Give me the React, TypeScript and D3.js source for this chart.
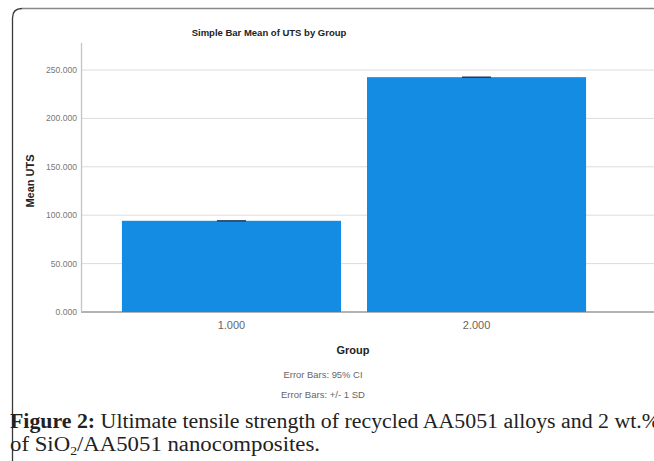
import React from "react";
import * as d3 from "d3";

const groups = ["1.000", "2.000"];
const means = [94.2, 242.6];
const errors = [0.7, 0.7];
const yTicks = [0, 50, 100, 150, 200, 250];

const W = 654;
const H = 461;

export default function App() {
  const x = d3
    .scaleBand<string>()
    .domain(groups)
    .range([81, 627])
    .paddingInner(0.106)
    .paddingOuter(0.167);
  const y = d3.scaleLinear().domain([0, 250]).range([312, 70]);
  const fmt = d3.format(".3f");
  const sans = "Arial, 'Liberation Sans', sans-serif";
  const serif = "'Liberation Serif', 'Times New Roman', serif";

  return (
    <svg
      width={W}
      height={H}
      style={{ position: "absolute", left: 0, top: 0, background: "#fff" }}
    >
      {/* frame */}
      <path d={`M12.5,${H} L12.5,18 Q12.5,8.5 22,8.5`} fill="none" stroke="#3a3a3a" strokeWidth={1.3} />
      <path d={`M22,8.5 L${W},8.5`} fill="none" stroke="#888" strokeWidth={1.5} />
      {/* title */}
      <text
        x={269}
        y={36}
        textAnchor="middle"
        fontFamily={sans}
        fontWeight="bold"
        fontSize={9.5}
        fill="#222"
      >
        Simple Bar Mean of UTS by Group
      </text>
      {/* gridlines */}
      {yTicks.map((t) => (
        <line
          key={"g" + t}
          x1={81}
          x2={W}
          y1={y(t)}
          y2={y(t)}
          stroke={t === 0 ? "#9a9a9a" : "#dcdcdc"}
          strokeWidth={t === 0 ? 1.3 : 1}
        />
      ))}
      {/* y axis */}
      <line x1={81.5} x2={81.5} y1={43} y2={312} stroke="#c4c4c4" strokeWidth={1.3} />
      {yTicks.map((t) => (
        <text
          key={"t" + t}
          x={77}
          y={y(t) + 3}
          textAnchor="end"
          fontFamily={sans}
          fontSize={8.6}
          fill="#777"
        >
          {fmt(t)}
        </text>
      ))}
      <text
        transform={`translate(34,181) rotate(-90)`}
        textAnchor="middle"
        fontFamily={sans}
        fontWeight="bold"
        fontSize={11}
        fill="#222"
      >
        Mean UTS
      </text>
      {/* bars */}
      {groups.map((g, i) => (
        <rect
          key={"b" + g}
          x={x(g)!}
          width={x.bandwidth()}
          y={y(means[i])}
          height={y(0) - y(means[i])}
          fill="#148ce3"
        />
      ))}
      {/* error bars */}
      {groups.map((g, i) => {
        const cx = x(g)! + x.bandwidth() / 2;
        return (
          <rect
            key={"e" + g}
            x={cx - 14.5}
            width={29}
            y={y(means[i] + errors[i])}
            height={Math.max(1.5, y(means[i] - errors[i]) - y(means[i] + errors[i]))}
            fill="#243a5e"
          />
        );
      })}
      {/* x tick labels */}
      {groups.map((g) => (
        <text
          key={"x" + g}
          x={x(g)! + x.bandwidth() / 2}
          y={329}
          textAnchor="middle"
          fontFamily={sans}
          fontSize={11}
          fill="#666"
        >
          {g}
        </text>
      ))}
      <text
        x={353}
        y={354}
        textAnchor="middle"
        fontFamily={sans}
        fontWeight="bold"
        fontSize={11}
        fill="#222"
      >
        Group
      </text>
      <text x={323} y={378} textAnchor="middle" fontFamily={sans} fontSize={8.2} fill="#666" textLength={79} lengthAdjust="spacingAndGlyphs">
        Error Bars: 95% CI
      </text>
      <text x={323} y={398} textAnchor="middle" fontFamily={sans} fontSize={8.2} fill="#666" textLength={84} lengthAdjust="spacingAndGlyphs">
        Error Bars: +/- 1 SD
      </text>
      {/* caption */}
      <text
        x={10}
        y={428}
        fontFamily={serif}
        fontSize={20}
        fill="#222"
        textLength={650}
        lengthAdjust="spacingAndGlyphs"
      >
        <tspan fontWeight="bold">Figure 2:</tspan>
        <tspan> Ultimate tensile strength of recycled AA5051 alloys and 2 wt.%</tspan>
      </text>
      <text
        x={10}
        y={451}
        fontFamily={serif}
        fontSize={20}
        fill="#222"
        textLength={310}
        lengthAdjust="spacingAndGlyphs"
      >
        of SiO
        <tspan fontSize={12} dy={4}>2</tspan>
        <tspan dy={-4}>/AA5051 nanocomposites.</tspan>
      </text>
    </svg>
  );
}
